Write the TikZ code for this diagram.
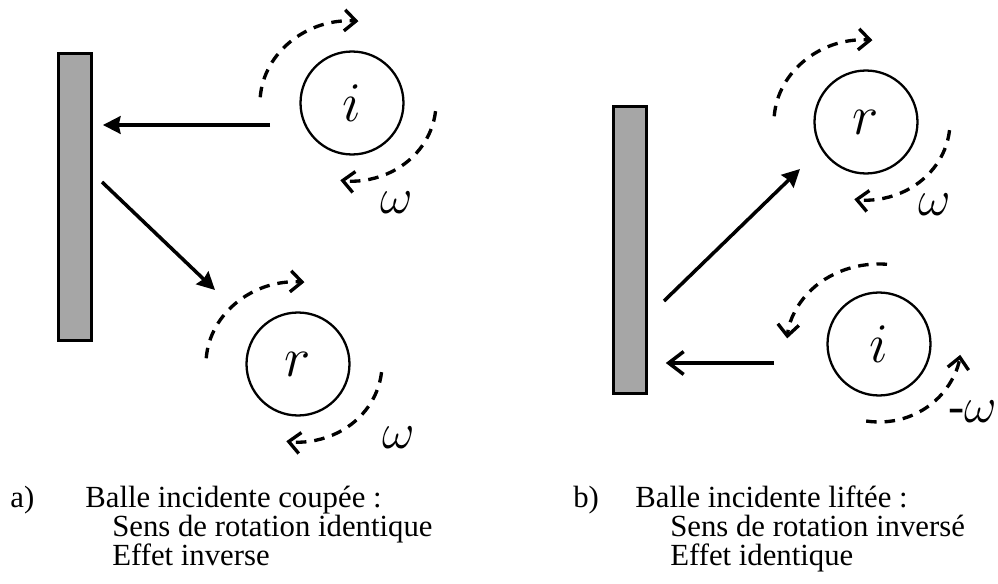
\documentclass[tikz,border=0pt]{standalone}
\usepackage{graphicx}
\usepackage{fontspec}
\setmainfont{Liberation Serif}
\usetikzlibrary{arrows.meta}

\newcommand{\lettre}[1]{\scalebox{1.28}{$#1$}}
\newcommand{\vitesse}[1]{\scalebox{1.15}{#1}}

\tikzset{
  wall/.style={draw,line width=2pt,fill=black!35,minimum width=0.66cm,minimum height=5.74cm,inner sep=0pt},
  ball/.style={draw,circle,line width=1.3pt,minimum size=2.06cm,inner sep=0pt,font=\fontsize{24}{28}\selectfont},
  spin/.style={line width=1.9pt,dash pattern=on 6pt off 4.5pt,-{Straight Barb[length=6.5pt,width=12pt]}},
  fleche/.style={line width=2pt,-{Stealth[length=10pt,width=10pt,inset=1pt]}},
  flecheV/.style={line width=2pt,-{Straight Barb[length=8.5pt,width=13pt]}},
  omega/.style={font=\fontsize{24}{28}\selectfont,inner sep=0pt},
  legende/.style={anchor=base west,inner sep=0pt,font=\fontsize{17.5}{20}\selectfont},
}

\begin{document}
\begin{tikzpicture}[x=0.02cm,y=0.02cm]
\useasboundingbox (0,0) rectangle (998,-584);

% a) balle coupee
\node[wall] (murA) at (75,-197) {};
\node[ball] (iA) at (352,-103) {\lettre{i}};
\node[ball] (rA) at (298,-364) {\lettre{r}};
\coordinate (depA) at (270,-125);
\coordinate (repA) at (102,-182);
\coordinate (finA) at (215,-290);
\draw[fleche,shorten >=5.5pt] (depA) -- (depA -| murA.east);
\draw[fleche] (repA) -- (finA);
\draw[spin] ([shift={(176:92 and 82)}]iA.center) arc[start angle=176,end angle=86,x radius=92,y radius=82];
\draw[spin] ([shift={(-6:84 and 78)}]iA.center) arc[start angle=-6,end angle=-98,x radius=84,y radius=78];
\draw[spin] ([shift={(176:92 and 82)}]rA.center) arc[start angle=176,end angle=86,x radius=92,y radius=82];
\draw[spin] ([shift={(-6:84 and 78)}]rA.center) arc[start angle=-6,end angle=-98,x radius=84,y radius=78];
\node[omega] (wiA) at (397,-203) {\vitesse{$\omega$}};
\node[omega] (wrA) at (399,-438) {\vitesse{$\omega$}};

% b) balle liftee
\node[wall] (murB) at (630,-250) {};
\node[ball] (rB) at (866,-122) {\lettre{r}};
\node[ball] (iB) at (879,-344) {\lettre{i}};
\coordinate (depB) at (774,-363);
\coordinate (repB) at (664,-301);
\coordinate (finB) at (800,-169);
\draw[flecheV,shorten >=10pt] (depB) -- (depB -| murB.east);
\draw[fleche] (repB) -- (finB);
\draw[spin] ([shift={(176:92 and 82)}]rB.center) arc[start angle=176,end angle=86,x radius=92,y radius=82];
\draw[spin] ([shift={(-6:84 and 78)}]rB.center) arc[start angle=-6,end angle=-98,x radius=84,y radius=78];
\draw[spin] ([shift={(85:92 and 80)}]iB.center) arc[start angle=85,end angle=176,x radius=92,y radius=80];
\draw[spin] ([shift={(-99:82 and 78)}]iB.center) arc[start angle=-99,end angle=-8,x radius=82,y radius=78];
\node[omega] (wrB) at (935,-205) {\vitesse{$\omega$}};
\node[omega,anchor=east] (wiB) at (997,-412) {\vitesse{-$\omega$}};

% legendes
\node[legende] (lettreA) at (10,-507) {a)};
\node[legende] (titreA) at (85,-507) {Balle incidente coupée :};
\node[legende] (sensA) at (112,-536) {Sens de rotation identique};
\node[legende] (effetA) at (112,-565) {Effet inverse};
\node[legende] (lettreB) at (573,-507) {b)};
\node[legende] (titreB) at (635,-507) {Balle incidente liftée :};
\node[legende] (sensB) at (670,-536) {Sens de rotation inversé};
\node[legende] (effetB) at (670,-565) {Effet identique};
\end{tikzpicture}
\end{document}
